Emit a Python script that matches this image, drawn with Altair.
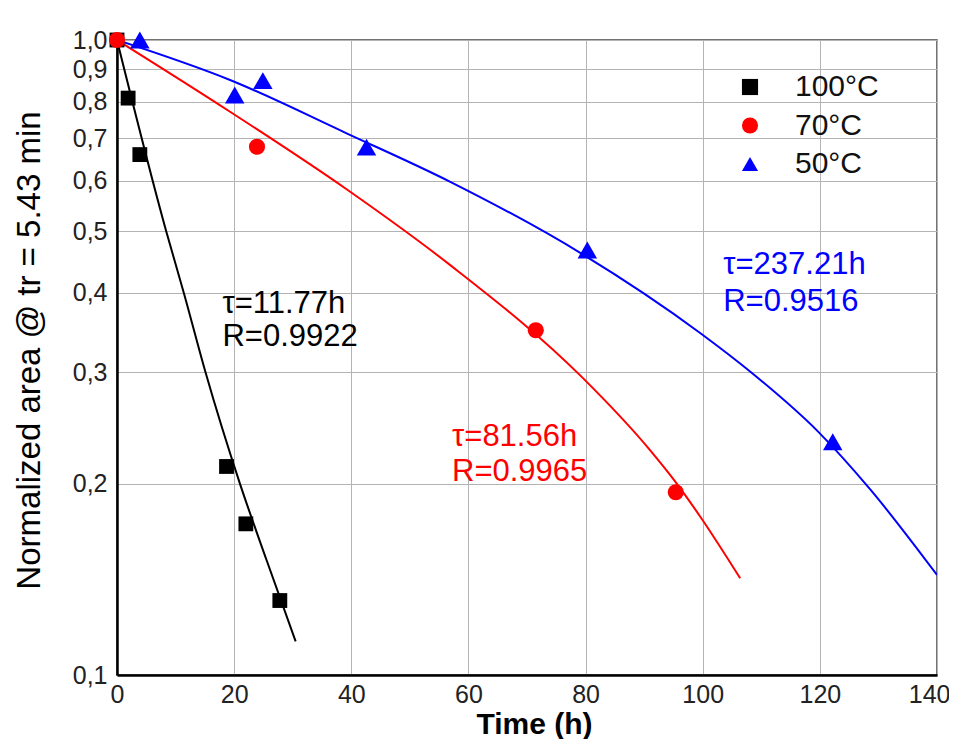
import altair as alt
import pandas as pd

# ---- data ----
series_names = ["100°C", "70°C", "50°C"]
series_colors = ["#000000", "#ff0000", "#0000ff"]
series_shapes = ["square", "circle", "triangle-up"]
series_sizes = [220, 260, 380]

# measured points
t100 = [0, 1.9, 3.9, 18.7, 22.0, 27.8]
v100 = [1.0, 0.81, 0.66, 0.213, 0.173, 0.131]
t70 = [0, 23.9, 71.5, 95.4]
v70 = [1.0, 0.679, 0.349, 0.194]
t50 = [3.9, 20.1, 24.9, 42.6, 80.3, 122.2]
v50 = [1.0, 0.819, 0.863, 0.678, 0.467, 0.233]

# fitted curves
fit100_t = [0, 8.4, 11.4, 15.1, 21.0, 25.5, 30.5]
fit100_v = [1.0, 0.5, 0.4, 0.3, 0.2, 0.152, 0.113]
fit70_t = [0, 19.3, 39.2, 56.9, 79.3, 91.0, 95.6, 99.5, 106.4]
fit70_v = [1.0, 0.771, 0.582, 0.442, 0.295, 0.226, 0.200, 0.178, 0.142]
fit50_t = [0, 19.3, 39.2, 56.9, 79.3, 99.5, 108.4, 119.7, 128.6, 140]
fit50_v = [1.0, 0.865, 0.713, 0.598, 0.461, 0.346, 0.299, 0.2417, 0.196, 0.1437]

# annotations
ann_text = ["τ=11.77h", "R=0.9922", "τ=81.56h", "R=0.9965", "τ=237.21h", "R=0.9516"]
ann_t = [18.0, 18.0, 57.2, 57.2, 103.5, 103.5]
ann_v = [0.384, 0.341, 0.237, 0.209, 0.442, 0.387]
ann_col = ["#000000", "#000000", "#ff0000", "#ff0000", "#0000ff", "#0000ff"]

x_ticks = [0, 20, 40, 60, 80, 100, 120, 140]
y_ticks = [0.1, 0.2, 0.3, 0.4, 0.5, 0.6, 0.7, 0.8, 0.9, 1.0]

# ---- tables ----
pts = pd.DataFrame(
    [{"series": series_names[0], "t": a, "v": b, "order": 0, "sz": series_sizes[0]} for a, b in zip(t100, v100)]
    + [{"series": series_names[1], "t": a, "v": b, "order": 1, "sz": series_sizes[1]} for a, b in zip(t70, v70)]
    + [{"series": series_names[2], "t": a, "v": b, "order": 2, "sz": series_sizes[2]} for a, b in zip(t50, v50)]
)
fits = pd.DataFrame(
    [{"series": series_names[0], "col": series_colors[0], "t": a, "v": b} for a, b in zip(fit100_t, fit100_v)]
    + [{"series": series_names[1], "col": series_colors[1], "t": a, "v": b} for a, b in zip(fit70_t, fit70_v)]
    + [{"series": series_names[2], "col": series_colors[2], "t": a, "v": b} for a, b in zip(fit50_t, fit50_v)]
)
ann = pd.DataFrame({"text": ann_text, "t": ann_t, "v": ann_v, "col": ann_col})

FONT = "Liberation Sans"

xscale = alt.Scale(domain=[0, 140], nice=False, zero=False)
yscale = alt.Scale(type="log", domain=[0.1, 1.0], nice=False)

xaxis = alt.Axis(
    values=x_ticks, title="Time (h)", titleFontWeight="bold", titleFontSize=30,
    titleX=417, titleY=58, titleBaseline="alphabetic", titleAlign="center",
    labelFontSize=25, labelPadding=7, ticks=False, grid=True,
    labelAlign={"condition": {"test": "datum.value == 140", "value": "right"}, "value": "center"},
    labelOffset={"condition": {"test": "datum.value == 140", "value": 13}, "value": 0},
    gridColor="#b3b3b3", gridWidth=1, domainColor="#000000", domainWidth=2.5,
    labelColor="#222222", titleColor="#000000", labelFlush=False,
)
yaxis = alt.Axis(
    values=y_ticks, title="Normalized area @ tr = 5.43 min", titleFontWeight="normal",
    titleFontSize=33, titleX=-88, titleY=310, titleAlign="center", titleBaseline="middle",
    titleAngle=-90,
    labelExpr="replace(format(datum.value, '.1f'), '.', ',')",
    labelFontSize=25, labelPadding=10, ticks=False, grid=True,
    gridColor="#b3b3b3", gridWidth=1, domainColor="#000000", domainWidth=2.5,
    labelColor="#222222", titleColor="#000000", labelFlush=False, labelOverlap=False,
)

lines = alt.Chart(fits).mark_line(interpolate="monotone", strokeWidth=2, clip=True).encode(
    x=alt.X("t:Q", scale=xscale, axis=xaxis),
    y=alt.Y("v:Q", scale=yscale, axis=yaxis),
    color=alt.Color("col:N", scale=None),
    detail="series:N",
)

leg = alt.Legend(title=None, orient="none", legendX=618, legendY=32,
                 labelFontSize=30, labelFont=FONT, symbolSize=260,
                 labelOffset=30, rowPadding=8.5, symbolStrokeWidth=0,
                 labelColor="#111111")

points = alt.Chart(pts).mark_point(filled=True, opacity=1, strokeWidth=0).encode(
    x=alt.X("t:Q", scale=xscale),
    y=alt.Y("v:Q", scale=yscale),
    color=alt.Color("series:N", scale=alt.Scale(domain=series_names, range=series_colors), legend=leg),
    shape=alt.Shape("series:N", scale=alt.Scale(domain=series_names, range=series_shapes), legend=leg),
    size=alt.Size("sz:Q", scale=None),
    order="order:Q",
)

texts = alt.Chart(ann).mark_text(align="left", baseline="middle", fontSize=31, font=FONT).encode(
    x=alt.X("t:Q", scale=xscale),
    y=alt.Y("v:Q", scale=yscale),
    text="text:N",
    color=alt.Color("col:N", scale=None),
)

chart = alt.layer(lines, points, texts).properties(
    width=820, height=635,
    autosize=alt.AutoSizeParams(type="none"),
    padding={"left": 109, "top": 32, "right": 12, "bottom": 64},
    background="#ffffff",
).configure(font=FONT).configure_view(stroke="#444444", strokeWidth=1.5).configure_axis(
    labelFont=FONT, titleFont=FONT
)

chart.save("out.html", embed_options={"renderer": "svg", "actions": False})
